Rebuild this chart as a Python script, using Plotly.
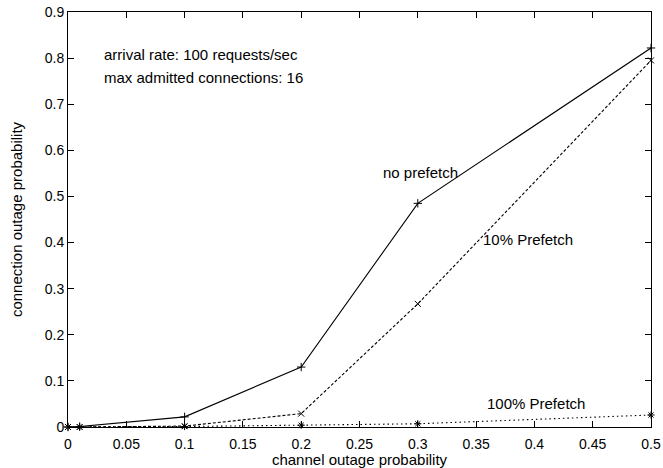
import plotly.graph_objects as go

x_vals = [0, 0.01, 0.1, 0.2, 0.3, 0.5]
no_prefetch = [0, 0.001, 0.022, 0.13, 0.485, 0.822]
prefetch_10 = [0, 0.0, 0.002, 0.029, 0.267, 0.795]
prefetch_100 = [0, 0.0, 0.001, 0.004, 0.007, 0.026]

x_ticks = [0, 0.05, 0.1, 0.15, 0.2, 0.25, 0.3, 0.35, 0.4, 0.45, 0.5]
x_tick_text = ["0", "0.05", "0.1", "0.15", "0.2", "0.25", "0.3", "0.35", "0.4", "0.45", "0.5"]
y_ticks = [0, 0.1, 0.2, 0.3, 0.4, 0.5, 0.6, 0.7, 0.8, 0.9]
y_tick_text = ["0", "0.1", "0.2", "0.3", "0.4", "0.5", "0.6", "0.7", "0.8", "0.9"]

FONT = "Liberation Sans, Arial, sans-serif"

fig = go.Figure()
fig.add_trace(go.Scatter(x=x_vals, y=no_prefetch, mode="lines+markers",
                         line=dict(color="black", width=1.1, dash="solid"),
                         marker=dict(symbol="cross-thin-open", size=6, color="black",
                                     line=dict(color="black", width=1)),
                         name="no prefetch", cliponaxis=False))
fig.add_trace(go.Scatter(x=x_vals, y=prefetch_10, mode="lines+markers",
                         line=dict(color="black", width=1.1, dash="3px,2px"),
                         marker=dict(symbol="x-thin-open", size=6, color="black",
                                     line=dict(color="black", width=1)),
                         name="10% Prefetch", cliponaxis=False))
fig.add_trace(go.Scatter(x=x_vals, y=prefetch_100, mode="lines+markers",
                         line=dict(color="black", width=1.1, dash="1.5px,3px"),
                         marker=dict(symbol="asterisk-open", size=6, color="black",
                                     line=dict(color="black", width=1)),
                         name="100% Prefetch", cliponaxis=False))

annots = [
    dict(x=0.0296, y=0.8075, text="arrival rate: 100 requests/sec"),
    dict(x=0.0296, y=0.7577, text="max admitted connections: 16"),
    dict(x=0.2689, y=0.551, text="no prefetch"),
    dict(x=0.3547, y=0.4065, text="10% Prefetch"),
    dict(x=0.3584, y=0.051, text="100% Prefetch"),
]
for a in annots:
    fig.add_annotation(x=a["x"], y=a["y"], text=a["text"], showarrow=False,
                       xanchor="left", yanchor="middle", xshift=-1,
                       font=dict(family=FONT, size=15, color="black"))

axis_common = dict(showgrid=False, zeroline=False, showline=True, linecolor="black",
                   linewidth=1, mirror="allticks", ticks="inside", ticklen=6,
                   tickcolor="black", tickfont=dict(family=FONT, size=14, color="black"))

fig.update_xaxes(range=[0, 0.5], tickvals=x_ticks, ticktext=x_tick_text,
                 ticklabelstandoff=4,
                 title=dict(text="channel outage probability", standoff=0,
                            font=dict(family=FONT, size=15, color="black")),
                 **axis_common)
fig.update_yaxes(range=[0, 0.9], tickvals=y_ticks, ticktext=y_tick_text,
                 title=dict(text="connection outage probability", standoff=18,
                            font=dict(family=FONT, size=15, color="black")),
                 **axis_common)

fig.update_layout(width=663, height=468, showlegend=False,
                  margin=dict(l=68, r=12, t=12, b=41, autoexpand=False),
                  plot_bgcolor="white", paper_bgcolor="white",
                  font=dict(family=FONT, size=14, color="black"))

fig.write_html("out.html", config={"displayModeBar": False},
               post_script="document.body.style.margin='0px';")
